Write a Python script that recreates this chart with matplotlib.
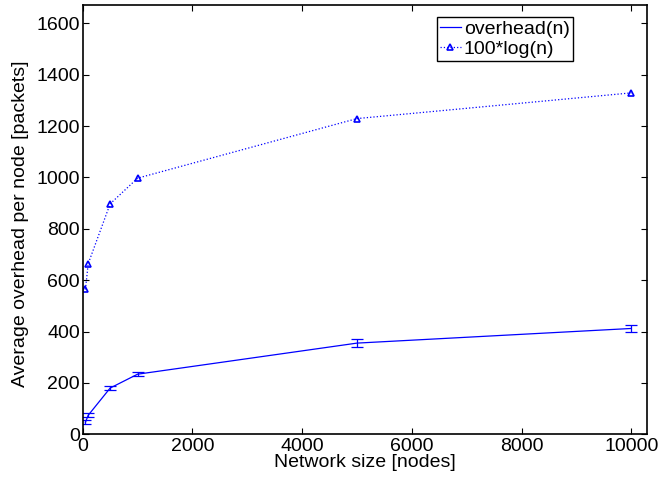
import matplotlib
matplotlib.use("Agg")
import matplotlib.pyplot as plt

# Network sizes and measured overhead (mean and error half-width)
nodes = [50, 100, 500, 1000, 5000, 10000]
overhead = [47, 74, 180, 234, 355, 412]
overhead_err = [7, 8, 8, 7, 16, 15]
# Reference curve 100*log(n)
ref_log = [564, 664, 897, 997, 1229, 1329]

x_ticks = [0, 2000, 4000, 6000, 8000, 10000]
y_ticks = [0, 200, 400, 600, 800, 1000, 1200, 1400, 1600]

plt.rcParams['font.family'] = ['Liberation Sans', 'DejaVu Sans']
plt.rcParams['font.size'] = 14

fig = plt.figure(figsize=(6.58, 4.79), dpi=100)
ax = fig.add_axes([0.1257, 0.0933, 0.9828 - 0.1257, 0.989 - 0.0933])

blue = '#0000ff'
ax.errorbar(nodes, overhead, yerr=overhead_err, fmt='none', ecolor=blue,
            elinewidth=0.9, capsize=4, capthick=0.9)
ax.plot(nodes, overhead, color=blue, lw=0.9, label='overhead(n)')
ax.plot(nodes, ref_log, color=blue, lw=0.9, ls=':', marker='^',
        markersize=4.5, markerfacecolor='none', markeredgewidth=1.2,
        label='100*log(n)')

ax.set_xlim(0, 10280)
ax.set_ylim(0, 1670)
ax.set_xticks(x_ticks)
ax.set_yticks(y_ticks)
ax.tick_params(direction='in', top=True, right=True, length=4.5, width=0.8,
               labelsize=14)
ax.tick_params(axis='x', pad=3)
ax.tick_params(axis='y', pad=2)
for s in ax.spines.values():
    s.set_linewidth(1.2)

ax.set_xlabel('Network size [nodes]')
ax.xaxis.set_label_coords(0.5, -0.047)
ax.set_ylabel('Average overhead per node [packets]')
ax.yaxis.set_label_coords(-0.111, 0.49)
ax.yaxis.label.set_va('center')

leg = ax.legend(loc='upper right', bbox_to_anchor=(0.8688, 0.9722),
                fancybox=False, framealpha=1, edgecolor='black',
                borderpad=0.15, handlelength=1.1, handletextpad=0.15,
                labelspacing=0.15, borderaxespad=0)
leg.get_frame().set_linewidth(1.0)

fig.savefig('out.png', dpi=100)
